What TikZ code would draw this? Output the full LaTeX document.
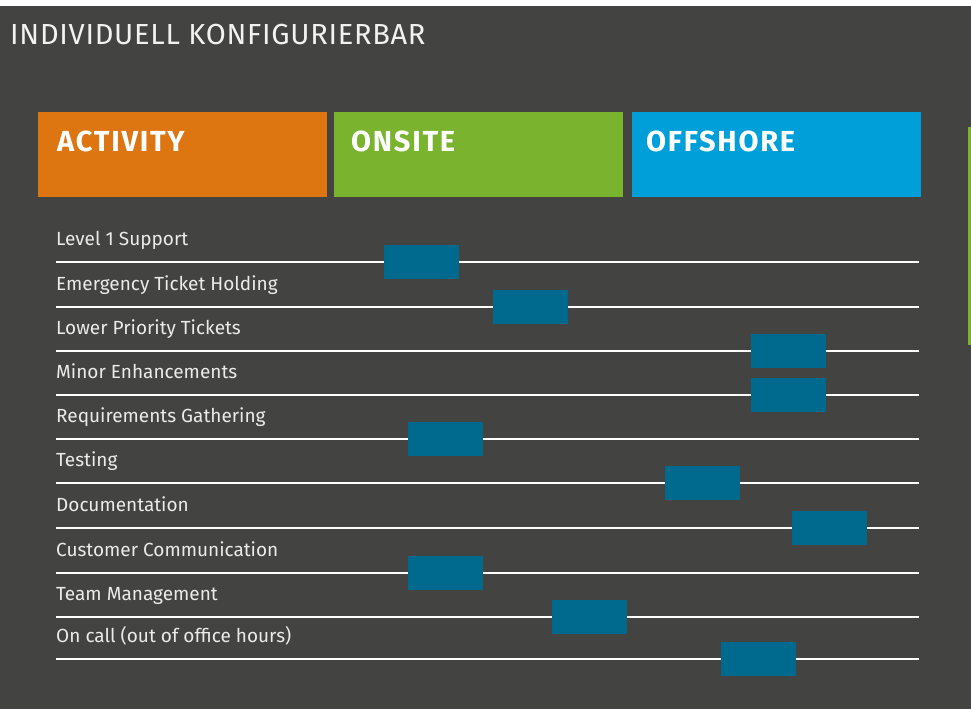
\documentclass[tikz,border=0pt]{standalone}
\usepackage{fontspec}
\setmainfont{Fira Sans}
\newfontfamily\titlefont{Fira Sans}[LetterSpace=2.5]
\newfontfamily\headfont{Fira Sans}[LetterSpace=6]
\usetikzlibrary{positioning}

\definecolor{bgdark}{HTML}{434341}
\definecolor{actorange}{HTML}{DD7510}
\definecolor{onsgreen}{HTML}{7AB32E}
\definecolor{offblue}{HTML}{009FDA}
\definecolor{slotblue}{HTML}{006A8E}

\begin{document}
\begin{tikzpicture}[x=1pt,y=-1pt,
  head/.style={rectangle,anchor=north west,inner sep=0pt,minimum width=289pt,minimum height=85pt},
  headtext/.style={anchor=base west,inner sep=0pt,text=white,font=\headfont\fontsize{29}{32}\selectfont\bfseries},
  rowlabel/.style={anchor=base west,inner sep=0pt,text=white!92!black,font=\fontsize{19}{22}\selectfont},
  slot/.style={rectangle,fill=slotblue,inner sep=0pt,minimum width=75pt,minimum height=34pt}]

      \fill[bgdark] (0,0) rectangle (971,709);
      \fill[white] (0,0) rectangle (971,6);
      \fill[onsgreen] (968,127) rectangle (971,345);
      \useasboundingbox (0,0) rectangle (971,709);

      \node[anchor=base west,inner sep=0pt,text=white!95!black,font=\titlefont\fontsize{29}{32}\selectfont] (title) at (10,45){INDIVIDUELL KONFIGURIERBAR};

      \node[head,fill=actorange] (activity) at (38,112){};
      \node[head,fill=onsgreen] (onsite) at (334,112){};
      \node[head,fill=offblue] (offshore) at (632,112){};
      \node[headtext] at (57,151){ACTIVITY};
      \node[headtext] at (351,151){ONSITE};
      \node[headtext] at (646,151){OFFSHORE};

      \foreach \y/\txt/\sx [count=\i] in {
          261.5/Level 1 Support/421.5,
          306.5/Emergency Ticket Holding/530.5,
          351/Lower Priority Tickets/788.5,
          395/Minor Enhancements/788.5,
          439/Requirements Gathering/445.5,
          483/Testing/702.5,
          528/Documentation/829.5,
          573/Customer Communication/445.5,
          617/Team Management/589.5,
          658.5/On call (out of office hours)/758.5} {
        \coordinate (a\i) at (55.5,\y);
        \coordinate (b\i) at (919,\y);
        \node[rowlabel] (lbl\i) at (56,\y-16.5){\txt};
        \draw[white,line width=2pt] (a\i) -- (b\i);
        \node[slot] (bar\i) at (\sx,\y){};
      }

    \end{tikzpicture}
\end{document}
